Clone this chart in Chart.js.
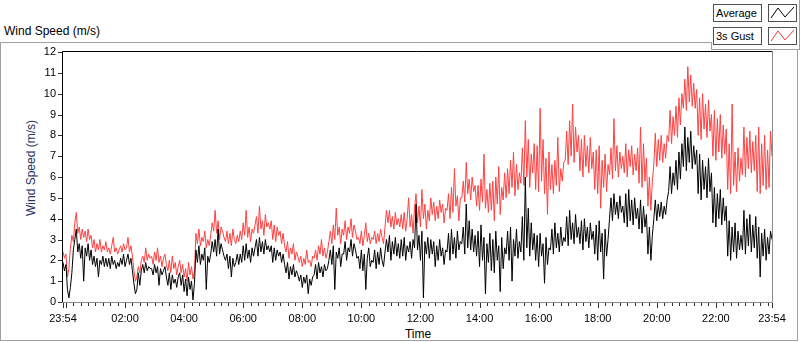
<!DOCTYPE html>
<html>
<head>
<meta charset="utf-8">
<script src="https://cdn.jsdelivr.net/npm/chart.js@4/dist/chart.umd.min.js"></script>
<style>
  body { margin: 0; width: 800px; height: 342px; overflow: hidden; background: #fff;
         font-family: "Liberation Sans", Arial, sans-serif; color: #000; }
  #frame { position: absolute; left: 0; top: 42px; width: 798px; height: 299px;
           box-sizing: border-box; border: 1px solid #a0a0a0; }
  #legendPanel { position: absolute; left: 711px; top: 0; width: 89px; height: 50px;
                 box-sizing: border-box; background: #fff; border-bottom: 1px solid #a0a0a0;
                 border-right: 1px solid #a0a0a0; z-index: 2; }
  #legendTick { position: absolute; left: 711px; top: 42px; width: 1px; height: 8px; background: #a0a0a0; z-index: 3; }
  .lbox { position: absolute; left: 713px; width: 49px; height: 18px; box-sizing: border-box;
          border: 1px solid #505050; font-size: 11px; line-height: 16px; padding-left: 2px; z-index: 3; }
  .licon { position: absolute; left: 768px; width: 29px; height: 18px; box-sizing: border-box;
           border: 1px solid #505050; z-index: 3; }
  #title { position: absolute; left: 4px; top: 24px; font-size: 12px; line-height: 14px; }
  #ytitle { position: absolute; left: -29px; top: 161px; width: 120px; height: 14px; line-height: 14px;
            text-align: center; font-size: 12px; color: #26335f; transform: rotate(-90deg); }
  #xtitle { position: absolute; left: 378px; top: 327px; width: 80px; text-align: center;
            font-size: 12px; line-height: 14px; }
  canvas { position: absolute; left: 0; top: 0; z-index: 1; }
</style>
</head>
<body>
<div id="frame"></div>
<div id="title">Wind Speed (m/s)</div>
<div id="ytitle">Wind Speed (m/s)</div>
<div id="xtitle">Time</div>
<div id="legendPanel"></div>
<div id="legendTick"></div>
<div class="lbox" style="top:4px">Average</div>
<div class="licon" style="top:4px"><svg width="27" height="16"><polyline points="2,13 9,3 16,12 25,2" fill="none" stroke="#000" stroke-width="1"/></svg></div>
<div class="lbox" style="top:27px">3s Gust</div>
<div class="licon" style="top:27px"><svg width="27" height="16"><polyline points="2,13 9,3 16,12 25,2" fill="none" stroke="#ff3030" stroke-width="1"/></svg></div>
<canvas id="chart" width="800" height="342"></canvas>
<script>
// 3 minute samples, starting 23:54 (one row = 30 minutes)
const stepMinutes = 3;

const gustSpeed = [
  2.4,2.1,2.3,1.2,1.6,2.6,3.2,2.9,3.8,4.3,
  3.3,3.6,3.0,3.5,3.1,3.4,2.9,3.5,3.0,3.2,
  2.6,3.0,2.4,2.8,2.5,3.0,2.4,2.7,2.5,2.9,
  2.4,2.6,2.3,2.7,3.1,2.4,2.6,2.3,2.5,2.7,
  2.4,2.8,2.5,2.6,3.1,2.4,2.7,2.2,1.5,1.0,
  1.2,1.7,1.4,2.0,2.2,1.9,2.6,2.0,2.3,2.1,
  2.2,1.8,2.4,2.0,2.6,1.9,2.2,1.7,2.1,2.3,
  1.8,1.5,2.0,1.4,2.2,1.6,1.9,1.3,1.7,2.0,
  1.4,1.8,1.2,1.6,1.0,1.9,1.3,1.7,1.1,1.5,
  3.3,2.8,3.5,2.7,3.1,2.9,3.4,2.6,3.0,2.7,
  3.2,3.8,3.4,4.4,3.3,3.9,3.0,3.6,3.4,3.1,
  2.9,3.4,2.8,3.3,2.7,3.5,3.0,2.8,3.2,2.9,
  3.4,3.0,3.8,3.2,4.4,3.1,3.6,2.9,3.5,3.3,
  3.7,4.1,3.3,4.6,3.5,3.9,3.2,4.2,3.6,3.8,
  3.5,3.9,3.0,3.7,2.9,3.6,3.2,3.4,2.8,3.3,
  2.7,2.4,2.9,2.1,2.6,2.3,2.8,2.0,2.4,2.2,
  1.9,2.2,1.7,2.1,1.8,2.5,1.9,2.0,1.7,2.2,
  2.1,2.5,2.0,2.7,2.3,3.0,2.2,2.6,2.1,2.4,
  2.9,3.4,2.8,3.7,3.0,4.5,3.2,3.6,2.8,3.5,
  3.2,3.9,3.0,3.6,3.3,4.0,3.1,3.7,3.4,3.0,
  3.1,2.8,3.4,2.7,3.2,3.8,2.9,3.3,2.8,3.1,
  3.0,3.4,2.8,3.3,2.9,3.5,3.1,2.8,3.6,4.4,
  3.8,4.4,3.6,4.1,3.5,4.3,3.7,4.0,3.6,4.2,
  3.5,4.3,3.4,4.0,5.0,3.6,4.2,3.3,4.5,5.2,
  3.8,4.6,3.6,5.4,4.0,4.7,3.5,4.4,3.9,5.0,
  4.2,4.8,3.9,4.6,4.0,4.9,4.3,4.7,3.8,4.5,
  4.4,5.2,4.0,5.5,4.3,6.4,4.6,5.1,3.9,5.0,
  5.0,5.8,4.8,6.7,5.2,5.9,4.9,6.0,5.3,5.6,
  4.6,5.6,4.4,5.9,4.8,7.1,4.5,5.4,4.3,5.7,
  4.4,5.8,3.9,6.0,4.7,6.5,4.2,5.5,4.9,6.2,
  5.0,6.4,5.2,6.8,5.5,7.2,5.1,6.6,5.4,6.2,
  5.7,7.4,5.6,8.7,6.0,7.8,5.5,7.1,6.2,7.6,
  5.4,7.5,5.3,9.3,5.8,7.8,5.2,6.9,4.2,7.2,
  5.4,6.6,5.2,6.8,5.6,7.9,5.3,6.4,5.8,6.7,
  6.8,8.2,6.6,8.7,7.0,9.5,6.7,8.4,7.2,8.0,
  6.3,7.8,6.0,8.0,6.5,7.5,6.2,7.9,6.4,7.2,
  5.4,7.3,5.2,7.5,4.5,6.8,5.5,7.1,5.3,6.6,
  6.1,7.4,5.9,8.8,6.3,7.5,6.0,7.2,6.4,7.0,
  6.2,7.6,6.0,7.3,6.5,7.5,6.1,7.1,6.3,7.4,
  5.7,8.4,5.5,7.6,5.8,6.9,4.6,6.0,4.4,5.8,
  6.6,8.1,6.5,7.8,6.8,8.0,6.7,7.6,6.9,8.0,
  7.7,9.2,7.6,8.9,8.0,9.4,7.9,9.8,8.5,10.0,
  9.3,10.7,9.2,11.3,9.6,10.9,9.4,10.5,9.3,10.2,
  8.0,9.8,7.8,10.0,8.3,9.5,7.9,9.7,8.2,9.0,
  7.0,9.2,6.8,8.8,7.2,9.0,6.9,8.5,7.1,8.3,
  5.4,7.6,5.2,9.5,5.6,7.2,5.3,7.4,5.8,6.9,
  6.1,8.4,6.0,7.9,6.4,8.2,6.2,7.7,6.3,8.0,
  5.3,8.4,5.2,7.6,5.6,8.0,5.4,7.3,5.5,8.2,
  7.0
];

const avgSpeed = [
  1.9,1.5,1.8,0.6,0.2,0.7,1.4,2.5,3.0,3.5,
  2.4,2.8,2.1,2.7,1.0,2.6,2.2,2.8,2.0,2.5,
  1.8,2.2,1.7,2.1,1.2,2.0,1.8,2.2,1.7,2.1,
  1.7,2.1,1.6,2.2,1.8,2.0,1.6,1.9,1.7,2.1,
  1.8,2.3,1.7,2.0,2.3,1.8,2.1,1.5,0.9,0.4,
  0.6,1.4,0.8,1.5,1.8,1.4,1.9,1.5,1.7,1.6,
  1.6,1.3,1.8,1.4,1.7,0.8,1.6,1.3,1.5,1.7,
  1.2,0.8,1.4,0.6,1.3,0.9,1.1,0.7,1.2,1.4,
  0.8,1.3,0.5,1.1,0.3,1.2,0.6,1.0,0.1,0.9,
  2.5,1.9,2.7,1.8,2.3,2.0,2.6,0.6,2.2,1.9,
  2.3,2.9,2.4,3.0,2.2,3.5,2.3,2.8,2.5,2.2,
  2.0,2.3,1.6,2.2,1.2,2.1,1.7,1.9,2.3,1.8,
  2.3,1.9,2.7,2.0,2.8,2.1,2.5,1.9,2.6,2.2,
  2.6,3.0,2.2,3.1,2.4,2.9,2.3,3.0,2.5,2.7,
  2.4,2.7,1.9,2.6,2.0,2.5,2.2,2.4,1.9,2.3,
  1.8,1.4,1.9,1.1,1.7,1.3,1.8,1.2,1.5,1.3,
  1.0,1.3,0.7,1.2,0.9,1.3,0.4,1.1,0.8,1.2,
  1.3,1.8,1.1,1.9,1.4,1.7,1.2,1.8,1.5,1.6,
  2.0,2.5,1.8,2.7,0.6,2.4,2.1,2.6,1.7,2.3,
  2.3,2.9,2.0,2.6,2.4,3.0,2.2,2.8,2.5,2.1,
  2.2,1.6,2.5,1.5,2.3,0.6,2.1,2.6,1.7,2.0,
  1.9,2.5,1.6,2.4,1.8,2.6,2.0,1.7,2.4,3.0,
  2.4,3.2,2.0,2.9,2.3,3.1,2.2,2.8,2.1,3.0,
  2.2,3.1,2.0,2.7,2.4,2.9,2.1,3.0,2.6,4.7,
  2.5,3.2,2.0,3.4,0.2,2.9,2.3,3.1,2.1,3.0,
  2.3,2.9,1.7,2.7,2.0,3.0,2.2,2.6,1.8,2.5,
  2.4,3.3,2.0,3.5,2.3,3.1,2.1,3.4,2.5,2.9,
  2.8,3.6,2.3,4.7,2.6,3.9,2.5,3.5,2.4,3.2,
  2.2,3.4,1.7,3.7,2.0,3.1,0.4,2.8,1.9,3.3,
  1.5,3.0,1.4,3.4,2.0,2.7,0.5,3.1,1.6,2.6,
  2.3,3.4,2.0,3.6,1.0,3.0,2.2,3.5,2.1,2.9,
  2.4,4.1,2.0,6.0,2.6,4.5,2.2,3.8,2.5,3.3,
  2.0,3.2,1.7,3.3,2.2,2.8,0.9,3.1,1.8,2.6,
  2.5,3.5,2.3,3.8,2.6,3.3,2.4,3.6,2.7,3.1,
  2.9,4.1,2.7,4.4,3.0,3.8,2.8,4.2,3.1,3.6,
  2.8,3.9,2.5,4.0,2.9,3.6,2.6,3.8,3.0,3.4,
  2.3,3.7,2.0,3.9,2.4,3.3,1.1,3.5,2.2,3.0,
  4.0,5.0,3.9,5.2,4.2,4.8,4.0,5.1,4.3,4.6,
  3.8,5.2,3.6,5.4,3.9,4.9,3.7,5.0,4.0,4.5,
  3.5,4.9,3.3,4.6,3.6,4.2,2.3,3.6,2.0,3.2,
  4.0,4.9,3.9,4.7,4.1,4.8,4.0,4.6,4.2,4.9,
  5.3,6.5,5.2,6.2,5.6,6.8,5.4,7.2,5.9,7.6,
  6.5,8.4,6.3,7.9,6.7,8.2,6.4,7.5,6.6,7.3,
  5.2,7.1,4.9,6.8,5.4,6.5,5.0,6.9,5.3,6.2,
  3.8,5.5,3.6,5.2,4.0,5.4,3.7,5.0,3.9,4.6,
  2.2,3.9,2.0,3.6,2.4,3.8,2.1,3.4,2.5,3.2,
  2.5,4.4,2.3,4.0,2.7,4.2,2.4,3.7,2.6,4.1,
  2.1,3.6,1.2,3.3,2.2,3.5,2.0,3.1,2.3,3.4,
  3.0
];

// x ticks in minutes after 23:54
const labelMinutes = [0, 126, 246, 366, 486, 606, 726, 846, 966, 1086, 1206, 1326, 1440];
const labelTexts = ["23:54", "02:00", "04:00", "06:00", "08:00", "10:00", "12:00",
                    "14:00", "16:00", "18:00", "20:00", "22:00", "23:54"];
const minorMinutes = [0];
for (let m = 6; m <= 1440; m += 15) minorMinutes.push(m);
minorMinutes.push(1440);

const yTicks = [0,1,2,3,4,5,6,7,8,9,10,11,12];

function toPoints(arr) {
  return arr.map((v, i) => ({ x: i * stepMinutes, y: v }));
}

const frameAndTicks = {
  id: "frameAndTicks",
  afterDraw(chart) {
    const ctx = chart.ctx;
    const a = chart.chartArea;
    const xs = chart.scales.x, ys = chart.scales.y;
    ctx.save();
    ctx.lineWidth = 1;
    // x tick marks
    ctx.strokeStyle = "#303030";
    minorMinutes.forEach(m => {
      const px = Math.round(xs.getPixelForValue(m)) + 0.5;
      const major = m === 0 || m === 1440 || (m - 6) % 120 === 0;
      ctx.beginPath();
      ctx.moveTo(px, a.bottom + 1);
      ctx.lineTo(px, a.bottom + (major ? 6 : 4));
      ctx.stroke();
    });
    // y tick marks
    yTicks.forEach(v => {
      const py = Math.round(ys.getPixelForValue(v)) + 0.5;
      ctx.beginPath();
      ctx.moveTo(a.left - 5, py);
      ctx.lineTo(a.left, py);
      ctx.stroke();
    });
    // plot frame: dark top/left, grey bottom/right
    ctx.strokeStyle = "#000";
    ctx.beginPath();
    ctx.moveTo(Math.round(a.left) - 0.5, Math.round(a.bottom));
    ctx.lineTo(Math.round(a.left) - 0.5, Math.round(a.top) - 0.5);
    ctx.lineTo(Math.round(a.right) + 0.5, Math.round(a.top) - 0.5);
    ctx.stroke();
    ctx.strokeStyle = "#8c8c8c";
    ctx.beginPath();
    ctx.moveTo(Math.round(a.right) + 0.5, Math.round(a.top));
    ctx.lineTo(Math.round(a.right) + 0.5, Math.round(a.bottom) + 0.5);
    ctx.lineTo(Math.round(a.left) - 1, Math.round(a.bottom) + 0.5);
    ctx.stroke();
    ctx.restore();
  }
};

Chart.defaults.font.family = "'Liberation Sans', Arial, sans-serif";

new Chart(document.getElementById("chart"), {
  type: "line",
  data: {
    datasets: [
      { label: "Average", data: toPoints(avgSpeed), borderColor: "#000000",
        borderWidth: 1, pointRadius: 0, tension: 0 },
      { label: "3s Gust", data: toPoints(gustSpeed), borderColor: "#ff4040",
        borderWidth: 1, pointRadius: 0, tension: 0 }
    ]
  },
  options: {
    responsive: false,
    animation: false,
    devicePixelRatio: 1,
    layout: { padding: { left: 0, top: 52, right: 28, bottom: 0 } },
    plugins: { legend: { display: false }, tooltip: { enabled: false } },
    scales: {
      x: {
        type: "linear",
        min: 0,
        max: 1440,
        grid: { display: false, drawTicks: false },
        border: { display: false },
        afterBuildTicks: (scale) => {
          scale.ticks = labelMinutes.map(v => ({ value: v }));
        },
        afterFit: (scale) => { scale.height = 40; },
        ticks: {
          autoSkip: false,
          maxRotation: 0,
          padding: 10,
          color: "#000",
          font: { size: 11 },
          callback: (v) => labelTexts[labelMinutes.indexOf(v)]
        }
      },
      y: {
        min: 0,
        max: 12,
        grid: { display: false, drawTicks: false },
        border: { display: false },
        afterFit: (scale) => { scale.width = 63; },
        ticks: { stepSize: 1, padding: 7, color: "#000", font: { size: 11 } }
      }
    }
  },
  plugins: [frameAndTicks]
});
</script>
</body>
</html>
